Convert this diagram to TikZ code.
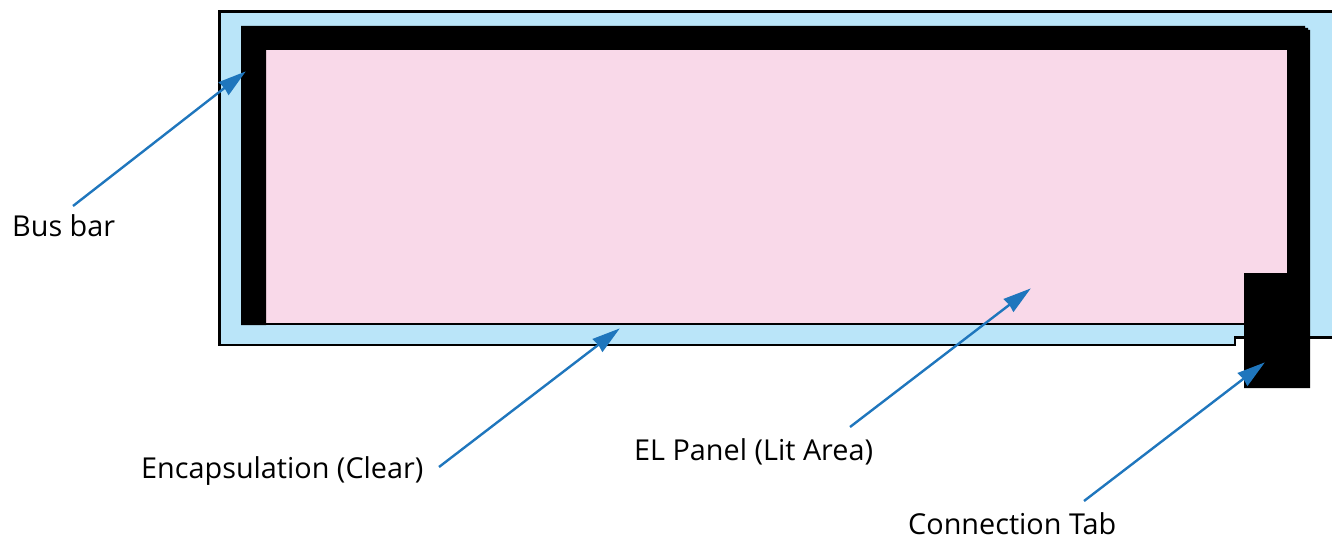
\documentclass[tikz,border=0pt]{standalone}
\usepackage{fontspec}
\setmainfont{Open Sans}
\usetikzlibrary{arrows.meta}
\definecolor{encblue}{HTML}{BAE5F9}
\definecolor{litpink}{HTML}{F9D9E9}
\definecolor{arrowblue}{HTML}{1F76BD}
\tikzset{
  outline/.style={draw=black,line width=2.4pt},
  thinline/.style={draw=black,line width=2pt},
  lead/.style={draw=arrowblue,line width=2.4pt,-{Stealth[length=28pt,width=16pt,inset=1pt]},shorten >=-1pt},
  lbl/.style={inner sep=0pt,anchor=base west,font=\fontsize{28.8}{34}\selectfont,text=black}
}
\begin{document}
\begin{tikzpicture}[x=1pt,y=-1pt]
\useasboundingbox (0,0) rectangle (1332,540);
% encapsulation
\fill[encblue] (219.5,11.5) -- (1332,11.5) -- (1332,337) -- (1235,337) -- (1235,345) -- (219.5,345) -- cycle;
\path[outline] (1332,11.5) -- (219.5,11.5) -- (219.5,345) -- (1235,345) -- (1235,337.5) -- (1332,337.5);
% lit area
\fill[litpink] (266,50) rectangle (1287,323);
\path[thinline] (266,323.5) -- (1244,323.5);
% bus bar
\fill[black] (241,26) -- (1305,26) -- (1305,28) -- (1308,28) -- (1308,30) -- (1310,30) -- (1310,388) -- (1244,388) -- (1244,273) -- (1287,273) -- (1287,50) -- (266,50) -- (266,325) -- (241,325) -- cycle;
% labels
\node[lbl] (busbar) at (12,236) {Bus bar};
\node[lbl] (encaps) at (141,478) {Encapsulation (Clear)};
\node[lbl] (elpanel) at (634,460) {EL Panel (Lit Area)};
\node[lbl] (conntab) at (908,534) {Connection Tab};
% connector ends
\coordinate (busS) at (73,206);   \coordinate (busE) at (245,72);
\coordinate (encS) at (439,467);  \coordinate (encE) at (619,329);
\coordinate (elS) at (850,427);   \coordinate (elE) at (1030,289);
\coordinate (tabS) at (1084,501); \coordinate (tabE) at (1264,363);
\draw[lead] (busS) -- (busE);
\draw[lead] (encS) -- (encE);
\draw[lead] (elS) -- (elE);
\draw[lead] (tabS) -- (tabE);
\end{tikzpicture}
\end{document}
